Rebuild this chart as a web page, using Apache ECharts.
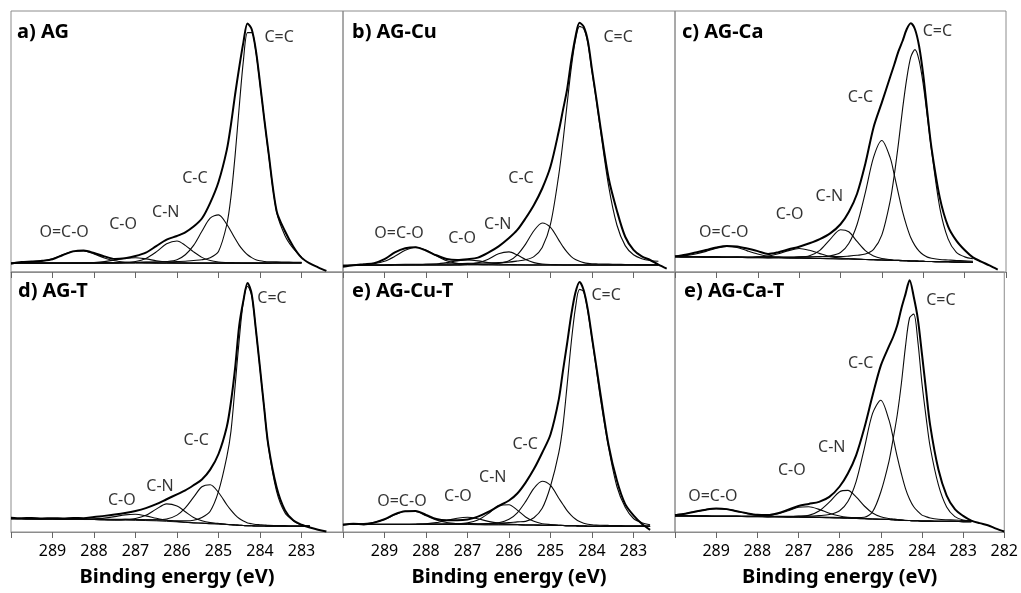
<!DOCTYPE html>
<html>
<head>
<meta charset="utf-8">
<script src="https://cdn.jsdelivr.net/npm/echarts@6.0.0/dist/echarts.min.js"></script>
<style>
  html, body { margin: 0; padding: 0; background: #fff; }
  #chart { width: 1021px; height: 593px; }
</style>
</head>
<body>
<div id="chart"></div>
<script>
// binding energy grid (eV), shared by every panel
const energy = [
  290, 289.75, 289.5, 289.25, 289, 288.75, 288.5, 288.25, 288, 287.75,
  287.5, 287.25, 287, 286.75, 286.5, 286.25, 286, 285.8, 285.6, 285.4,
  285.2, 285, 284.8, 284.7, 284.6, 284.5, 284.4, 284.3, 284.2, 284.1,
  284, 283.9, 283.8, 283.6, 283.4, 283.2, 283, 282.8, 282.6, 282.4,
  282.2, 282
];

// a) AG  -- background, measured spectrum, fitted components (height above background)
const bgAG = [
  3.3, 3.3, 3.4, 3.4, 3.4, 3.4, 3.4, 3.4, 3.4, 3.4,
  3.4, 3.4, 3.4, 3.4, 3.4, 3.4, 3.4, 3.4, 3.4, 3.4,
  3.4, 3.4, 3.4, 3.4, 3.4, 3.4, 3.4, 3.4, 3.4, 3.4,
  3.4, 3.4, 3.4, 3.5, 3.5, 3.5, 3.5, null, null, null,
  null, null
];
const expAG = [
  3.2, 3.8, 4.0, 4.3, 4.9, 6.5, 7.9, 8.2, 7.3, 6.0,
  5.0, 5.3, 6.1, 7.4, 9.9, 12.4, 13.8, 15.2, 17.4, 20.5,
  26.5, 34.5, 46.8, 56.5, 68, 78.5, 88, 95.2, 93, 85,
  72.5, 59, 46.5, 23.4, 15.7, 9.8, 5.5, 3.3, 1.8, 0.4,
  null, null
];
const sp2AG = [
  0, 0, 0, 0, 0, 0, 0.1, 0.1, 0.2, 0.2,
  0.2, 0.3, 0.3, 0.4, 0.4, 0.5, 0.6, 0.7, 1.0, 1.3,
  2.1, 4.5, 14.8, 25.4, 41.2, 60, 77.6, 88.3, 88.3, 81.1,
  68.6, 55.6, 42.5, 19.5, 10.5, 5.5, 2.2, 0, 0, 0,
  0, 0
];
const sp3AG = [
  0, 0, 0, 0, 0, 0, 0, 0, 0, 0,
  0, 0.1, 0.25, 0.3, 0.4, 0.6, 1.3, 3.2, 6.8, 12.2,
  17.2, 18.5, 14.9, 12.2, 9.4, 6.8, 4.8, 3.2, 2.1, 1.3,
  0.9, 0.65, 0.5, 0.4, 0.3, 0.25, 0.2, 0, 0, 0,
  0, 0
];
const cnAG = [
  0, 0, 0, 0, 0, 0, 0, 0, 0, 0.1,
  0.17, 0.26, 0.6, 1.8, 4.3, 7.4, 8.5, 6.8, 4.3, 2.2,
  1.0, 0.43, 0.23, 0.2, 0.15, 0.1, 0, 0, 0, 0,
  0, 0, 0, 0, 0, 0, 0, 0, 0, 0,
  0, 0
];
const coAG = [
  0, 0, 0, 0, 0, 0, 0, 0.1, 0.23, 0.57,
  1.19, 1.86, 2.08, 1.62, 0.92, 0.4, 0.16, 0.1, 0, 0,
  0, 0, 0, 0, 0, 0, 0, 0, 0, 0,
  0, 0, 0, 0, 0, 0, 0, 0, 0, 0,
  0, 0
];
const oocAG = [
  0.1, 0.15, 0.3, 0.74, 1.7, 3.2, 4.5, 4.67, 3.5, 2.0,
  0.9, 0.36, 0.16, 0.1, 0, 0, 0, 0, 0, 0,
  0, 0, 0, 0, 0, 0, 0, 0, 0, 0,
  0, 0, 0, 0, 0, 0, 0, 0, 0, 0,
  0, 0
];

// b) AG-Cu
const bgAGCu = [
  2.5, 2.5, 2.6, 2.6, 2.6, 2.7, 2.7, 2.7, 2.7, 2.7,
  2.7, 2.7, 2.7, 2.7, 2.7, 2.7, 2.7, 2.7, 2.7, 2.7,
  2.7, 2.7, 2.7, 2.7, 2.7, 2.7, 2.7, 2.7, 2.7, 2.7,
  2.7, 2.7, 2.7, 2.7, 2.7, 2.7, 2.7, 2.7, 2.7, 2.7,
  null, null
];
const expAGCu = [
  2.0, 2.6, 3.0, 3.4, 4.9, 7.5, 9.1, 9.5, 8.2, 6.4,
  5.0, 4.6, 4.9, 5.5, 7.4, 9.8, 13.0, 16.1, 20.6, 25.7,
  32, 40.4, 54, 62, 70, 81, 90, 95.5, 94, 88.5,
  77.5, 67, 56, 36, 23.5, 13.5, 8.5, 6.0, 4.6, 2.8,
  1.3, null
];
const sp2AGCu = [
  0.1, 0.1, 0.15, 0.15, 0.2, 0.2, 0.25, 0.25, 0.3, 0.35,
  0.4, 0.5, 0.6, 0.7, 0.8, 0.9, 1.1, 1.5, 2.0, 3.2,
  6.7, 15.6, 34.6, 47.2, 61.6, 75.4, 86, 91.4, 90.5, 85,
  74, 63.5, 52.1, 30.3, 15.3, 7.4, 3.9, 2.4, 1.7, 1.4,
  0, 0
];
const sp3AGCu = [
  0, 0, 0, 0, 0, 0, 0, 0, 0, 0,
  0, 0, 0.15, 0.2, 0.3, 0.6, 1.6, 3.9, 8.0, 13.1,
  16.1, 14.4, 9.5, 7.0, 4.9, 3.2, 2.1, 1.4, 0.9, 0.6,
  0.45, 0.4, 0.35, 0.3, 0.25, 0.2, 0.15, 0.1, 0.1, 0.1,
  0, 0
];
const cnAGCu = [
  0, 0, 0, 0, 0, 0, 0, 0, 0, 0,
  0, 0.1, 0.24, 0.8, 2.2, 4.3, 5.0, 3.8, 2.1, 0.9,
  0.35, 0.15, 0.1, 0, 0, 0, 0, 0, 0, 0,
  0, 0, 0, 0, 0, 0, 0, 0, 0, 0,
  0, 0
];
const coAGCu = [
  0, 0, 0, 0, 0, 0, 0, 0.1, 0.15, 0.38,
  0.9, 1.55, 1.9, 1.55, 0.9, 0.38, 0.15, 0.1, 0, 0,
  0, 0, 0, 0, 0, 0, 0, 0, 0, 0,
  0, 0, 0, 0, 0, 0, 0, 0, 0, 0,
  0, 0
];
const oocAGCu = [
  0.1, 0.15, 0.25, 0.6, 1.5, 3.3, 5.6, 6.8, 5.7, 3.5,
  1.6, 0.6, 0.27, 0.15, 0.1, 0, 0, 0, 0, 0,
  0, 0, 0, 0, 0, 0, 0, 0, 0, 0,
  0, 0, 0, 0, 0, 0, 0, 0, 0, 0,
  0, 0
];

// c) AG-Ca
const bgAGCa = [
  5.9, 5.8, 5.8, 5.7, 5.7, 5.6, 5.6, 5.5, 5.5, 5.4,
  5.4, 5.3, 5.3, 5.2, 5.2, 5.1, 5.0, 5.0, 4.9, 4.8,
  4.7, 4.6, 4.5, 4.4, 4.4, 4.3, 4.3, 4.2, 4.2, 4.1,
  4.1, 4.0, 4.0, 3.9, 3.9, 3.8, 3.8, 3.7, null, null,
  null, null
];
const expAGCa = [
  5.9, 6.6, 7.5, 8.4, 9.4, 10.0, 9.8, 9.0, 8.0, 6.9,
  7.6, 8.7, 9.7, 11, 12.6, 14.8, 18.3, 23, 30, 41.5,
  55.5, 65, 74.7, 79.5, 84.5, 88.5, 93, 95.3, 93, 86.5,
  75.5, 61, 47.5, 28.5, 17.5, 12, 8.4, 5.6, 4.0, 2.5,
  0.9, null
];
const sp2AGCa = [
  0.1, 0.1, 0.15, 0.15, 0.2, 0.2, 0.25, 0.25, 0.3, 0.35,
  0.4, 0.45, 0.5, 0.6, 0.7, 0.8, 0.9, 1.1, 1.5, 2.1,
  4.0, 9.6, 22.7, 32.8, 44.8, 58.1, 69.7, 78.2, 81, 77,
  67.7, 55.4, 42.7, 20.7, 8.8, 3.7, 2.0, 1.4, 0, 0,
  0, 0
];
const sp3AGCa = [
  0, 0, 0, 0, 0, 0, 0.1, 0.1, 0.2, 0.2,
  0.25, 0.3, 0.4, 0.5, 0.7, 1.1, 2.5, 5.9, 13.3, 25.6,
  39.3, 45.8, 39.3, 32.8, 25.6, 18.8, 13.3, 8.9, 5.9, 3.9,
  2.5, 1.7, 1.3, 0.9, 0.7, 0.6, 0.5, 0.4, 0, 0,
  0, 0
];
const cnAGCa = [
  0, 0, 0, 0, 0, 0, 0, 0, 0, 0,
  0.1, 0.2, 0.35, 1.0, 3.1, 7.4, 11.2, 10.4, 6.8, 3.4,
  1.4, 0.55, 0.3, 0.2, 0.15, 0.1, 0, 0, 0, 0,
  0, 0, 0, 0, 0, 0, 0, 0, 0, 0,
  0, 0
];
const coAGCa = [
  0, 0, 0, 0, 0, 0, 0, 0.1, 0.26, 0.7,
  1.6, 2.9, 3.7, 3.1, 1.85, 0.8, 0.3, 0.15, 0.1, 0,
  0, 0, 0, 0, 0, 0, 0, 0, 0, 0,
  0, 0, 0, 0, 0, 0, 0, 0, 0, 0,
  0, 0
];
const oocAGCa = [
  0.2, 0.46, 1.1, 2.2, 3.4, 4.2, 3.8, 2.6, 1.4, 0.6,
  0.26, 0.1, 0, 0, 0, 0, 0, 0, 0, 0,
  0, 0, 0, 0, 0, 0, 0, 0, 0, 0,
  0, 0, 0, 0, 0, 0, 0, 0, 0, 0,
  0, 0
];

// d) AG-T
const bgAGT = [
  5.1, 5.1, 5.0, 5.0, 5.0, 4.9, 4.9, 4.8, 4.8, 4.7,
  4.6, 4.6, 4.5, 4.4, 4.3, 4.1, 3.9, 3.7, 3.5, 3.4,
  3.2, 3.1, 2.9, 2.8, 2.7, 2.6, 2.5, 2.4, 2.4, 2.3,
  2.3, 2.3, 2.2, 2.2, 2.2, 2.2, 2.2, 2.2, null, null,
  null, null
];
const expAGT = [
  5.5, 5.3, 5.4, 5.2, 5.3, 5.2, 5.4, 5.3, 5.8, 6.2,
  6.7, 7.3, 8.1, 9.2, 10.7, 12.6, 14.5, 16, 18, 20.2,
  24, 30, 40.5, 50, 63, 79.5, 89, 95.8, 91.5, 78,
  63.1, 47.8, 33.5, 17.2, 8.4, 4.5, 2.8, 1.7, 0.9, 0.2,
  null, null
];
const sp2AGT = [
  0.1, 0.1, 0.1, 0.1, 0.15, 0.15, 0.15, 0.2, 0.2, 0.2,
  0.25, 0.25, 0.3, 0.3, 0.35, 0.4, 0.4, 0.6, 1.0, 2.2,
  4.8, 12.5, 26, 35.9, 53.4, 71.5, 86.3, 92.1, 88.5, 75.5,
  60.5, 45.3, 30.8, 13.4, 5.2, 2.2, 0.5, 0.2, 0, 0,
  0, 0
];
const sp3AGT = [
  0, 0, 0, 0, 0, 0, 0, 0, 0, 0,
  0, 0.1, 0.2, 0.3, 0.4, 0.9, 2.6, 5.6, 9.9, 14.0,
  15.0, 12.1, 7.6, 5.6, 3.9, 2.6, 1.7, 1.1, 0.76, 0.6,
  0.5, 0.4, 0.35, 0.3, 0.25, 0.2, 0.15, 0.1, 0, 0,
  0, 0
];
const cnAGT = [
  0, 0, 0, 0, 0, 0, 0, 0, 0, 0,
  0.14, 0.24, 0.7, 2.0, 4.5, 6.7, 6.1, 4.1, 2.1, 0.9,
  0.4, 0.2, 0.1, 0, 0, 0, 0, 0, 0, 0,
  0, 0, 0, 0, 0, 0, 0, 0, 0, 0,
  0, 0
];
const coAGT = [
  0, 0, 0, 0, 0, 0, 0, 0.1, 0.25, 0.63,
  1.3, 2.0, 2.3, 1.8, 1.0, 0.44, 0.17, 0.1, 0, 0,
  0, 0, 0, 0, 0, 0, 0, 0, 0, 0,
  0, 0, 0, 0, 0, 0, 0, 0, 0, 0,
  0, 0
];

// e) AG-Cu-T
const bgAGCuT = [
  2.9, 2.9, 2.9, 2.9, 2.9, 2.9, 2.9, 2.9, 2.9, 2.9,
  2.9, 2.9, 2.9, 2.8, 2.8, 2.8, 2.8, 2.8, 2.7, 2.7,
  2.6, 2.6, 2.5, 2.5, 2.4, 2.4, 2.4, 2.3, 2.3, 2.2,
  2.2, 2.2, 2.2, 2.2, 2.2, 2.2, 2.2, 2.2, 2.2, null,
  null, null
];
const expAGCuT = [
  2.7, 3.2, 2.9, 3.6, 4.9, 6.9, 8.0, 8.1, 6.6, 5.0,
  4.5, 4.5, 4.8, 5.9, 7.7, 10.0, 12.1, 14.8, 19, 24.2,
  30.5, 37.5, 51, 62, 72.5, 83.5, 92, 96.2, 93, 85.5,
  74.8, 64.2, 53.5, 33.4, 19.8, 10.7, 6.4, 3.2, 0.8, null,
  null, null
];
const sp2AGCuT = [
  0.1, 0.1, 0.1, 0.15, 0.15, 0.2, 0.2, 0.2, 0.25, 0.25,
  0.3, 0.3, 0.35, 0.4, 0.45, 0.6, 0.8, 1.1, 1.4, 2.8,
  6.5, 15, 28, 38.4, 54, 70.5, 83.7, 91, 90.1, 82.5,
  72, 61, 49.5, 30.2, 15.3, 7.3, 3.0, 1.4, 0.6, 0,
  0, 0
];
const sp3AGCuT = [
  0, 0, 0, 0, 0, 0, 0, 0, 0, 0,
  0, 0.1, 0.2, 0.3, 0.4, 0.75, 2.1, 4.6, 9.0, 14.1,
  16.9, 15.3, 10.5, 8.1, 5.8, 4.0, 2.6, 1.7, 1.1, 0.8,
  0.56, 0.45, 0.4, 0.33, 0.28, 0.22, 0.18, 0.14, 0.1, 0,
  0, 0
];
const cnAGCuT = [
  0, 0, 0, 0, 0, 0, 0, 0, 0, 0,
  0.14, 0.24, 0.6, 1.8, 4.3, 7.3, 7.7, 5.6, 3.1, 1.4,
  0.6, 0.27, 0.15, 0.1, 0, 0, 0, 0, 0, 0,
  0, 0, 0, 0, 0, 0, 0, 0, 0, 0,
  0, 0
];
const coAGCuT = [
  0, 0, 0, 0, 0, 0, 0, 0.1, 0.27, 0.69,
  1.5, 2.4, 2.8, 2.3, 1.3, 0.6, 0.24, 0.1, 0, 0,
  0, 0, 0, 0, 0, 0, 0, 0, 0, 0,
  0, 0, 0, 0, 0, 0, 0, 0, 0, 0,
  0, 0
];
const oocAGCuT = [
  0.1, 0.15, 0.32, 0.8, 1.9, 3.7, 5.1, 5.0, 3.4, 1.75,
  0.73, 0.3, 0.15, 0.1, 0, 0, 0, 0, 0, 0,
  0, 0, 0, 0, 0, 0, 0, 0, 0, 0,
  0, 0, 0, 0, 0, 0, 0, 0, 0, 0,
  0, 0
];

// e) AG-Ca-T (the source labels this panel "e" too)
const bgAGCaT = [
  6.2, 6.2, 6.1, 6.1, 6.0, 6.0, 6.0, 5.9, 5.9, 5.8,
  5.8, 5.7, 5.7, 5.6, 5.6, 5.5, 5.4, 5.3, 5.2, 5.1,
  5.0, 4.9, 4.8, 4.7, 4.6, 4.5, 4.4, 4.4, 4.3, 4.3,
  4.2, 4.2, 4.2, 4.1, 4.1, 4.1, 4.0, 4.0, null, null,
  null, null
];
const expAGCaT = [
  6.4, 7.0, 7.9, 8.6, 9.0, 8.8, 8.0, 7.2, 6.6, 6.5,
  7.2, 8.6, 10.0, 10.8, 11.6, 13.5, 17.5, 22.5, 29.5, 40,
  52.5, 64, 71.5, 75, 79.5, 86, 91.5, 96.8, 90.5, 82,
  68.5, 54.5, 41, 24, 14, 8.8, 6.2, 4.4, 3.4, 2.6,
  1.3, 0.2
];
const sp2AGCaT = [
  0.1, 0.1, 0.1, 0.1, 0.1, 0.1, 0.1, 0.1, 0.1, 0.1,
  0.1, 0.1, 0.15, 0.15, 0.15, 0.2, 0.2, 0.3, 0.4, 0.6,
  2.8, 10.5, 22.5, 31.1, 40.5, 52.6, 67, 78, 79.5, 69,
  53, 40, 28.5, 14, 5.5, 1.8, 0.6, 0.3, 0, 0,
  0, 0
];
const sp3AGCaT = [
  0, 0, 0, 0, 0, 0, 0, 0.1, 0.15, 0.2,
  0.25, 0.3, 0.4, 0.5, 0.7, 1.2, 2.8, 6.4, 14.2, 27.1,
  40.6, 45.8, 38.2, 31.5, 24.3, 17.9, 12.3, 8.2, 5.4, 3.6,
  2.3, 1.7, 1.2, 0.8, 0.6, 0.5, 0.4, 0.3, 0, 0,
  0, 0
];
const cnAGCaT = [
  0, 0, 0, 0, 0, 0, 0, 0, 0, 0,
  0.1, 0.2, 0.34, 0.8, 2.5, 6.0, 10.1, 10.7, 8.3, 4.9,
  2.3, 0.95, 0.4, 0.3, 0.2, 0.15, 0.1, 0, 0, 0,
  0, 0, 0, 0, 0, 0, 0, 0, 0, 0,
  0, 0
];
const coAGCaT = [
  0, 0, 0, 0, 0, 0, 0, 0.1, 0.2, 0.5,
  1.2, 2.5, 3.8, 4.1, 3.1, 1.7, 0.76, 0.36, 0.18, 0.1,
  0, 0, 0, 0, 0, 0, 0, 0, 0, 0,
  0, 0, 0, 0, 0, 0, 0, 0, 0, 0,
  0, 0
];
const oocAGCaT = [
  0.45, 0.9, 1.7, 2.5, 3.0, 2.8, 2.0, 1.2, 0.6, 0.27,
  0.13, 0.1, 0, 0, 0, 0, 0, 0, 0, 0,
  0, 0, 0, 0, 0, 0, 0, 0, 0, 0,
  0, 0, 0, 0, 0, 0, 0, 0, 0, 0,
  0, 0
];

const titles = ["a) AG", "b) AG-Cu", "c) AG-Ca", "d) AG-T", "e) AG-Cu-T", "e) AG-Ca-T"];
const xTicks = [283, 284, 285, 286, 287, 288, 289];
const xName = "Binding energy (eV)";

// peak annotations: text, energy, intensity
const peakTags = [
  [["C=C", 283.54, 90], ["C-C", 285.57, 36], ["C-N", 286.27, 23], ["C-O", 287.3, 18.4], ["O=C-O", 288.72, 15.3]],
  [["C=C", 283.37, 89.7], ["C-C", 285.71, 36], ["C-N", 286.27, 18.4], ["C-O", 287.13, 13], ["O=C-O", 288.65, 14.9]],
  [["C=C", 283.66, 92.3], ["C-C", 285.52, 66.7], ["C-N", 286.27, 29.1], ["C-O", 287.23, 22.2], ["O=C-O", 288.82, 15.3]],
  [["C=C", 283.71, 90], ["C-C", 285.54, 35.4], ["C-N", 286.41, 17.7], ["C-O", 287.33, 12.3]],
  [["C=C", 283.66, 90.8], ["C-C", 285.61, 33.5], ["C-N", 286.39, 20.8], ["C-O", 287.23, 13.8], ["O=C-O", 288.58, 11.9]],
  [["C=C", 283.54, 89.2], ["C-C", 285.49, 65], ["C-N", 286.19, 32.7], ["C-O", 287.16, 23.5], ["O=C-O", 289.08, 13.8]],
];

const panels = [
  { bg: bgAG, exp: expAG, comps: [sp2AG, sp3AG, cnAG, coAG, oocAG] },
  { bg: bgAGCu, exp: expAGCu, comps: [sp2AGCu, sp3AGCu, cnAGCu, coAGCu, oocAGCu] },
  { bg: bgAGCa, exp: expAGCa, comps: [sp2AGCa, sp3AGCa, cnAGCa, coAGCa, oocAGCa] },
  { bg: bgAGT, exp: expAGT, comps: [sp2AGT, sp3AGT, cnAGT, coAGT] },
  { bg: bgAGCuT, exp: expAGCuT, comps: [sp2AGCuT, sp3AGCuT, cnAGCuT, coAGCuT, oocAGCuT] },
  { bg: bgAGCaT, exp: expAGCaT, comps: [sp2AGCaT, sp3AGCaT, cnAGCaT, coAGCaT, oocAGCaT] },
];

(function () {
  "use strict";
  const chart = echarts.init(document.getElementById("chart"));
  const FONT = '"Noto Sans", "Open Sans", sans-serif';
  const FRAME = "#8c8c8c";
  const colX = [11, 343, 675], colW = [332, 332, 331];
  const rowY = [11, 272], rowH = [261, 260];
  const titleXY = [[17, 20], [352, 20], [682, 20], [18, 279], [352, 279], [684, 279]];

  const grid = [], xAxis = [], yAxis = [], series = [], title = [];

  panels.forEach((p, i) => {
    const col = i % 3, row = Math.floor(i / 3);
    grid.push({ left: colX[col], top: rowY[row], width: colW[col], height: rowH[row],
      show: true, borderColor: FRAME, borderWidth: 1 });
    xAxis.push({
      gridIndex: i, type: "value", min: 282, max: 290, interval: 1, inverse: true,
      splitLine: { show: false },
      axisLine: { show: true, onZero: false, lineStyle: { color: FRAME } },
      axisTick: { show: true, length: 6, lineStyle: { color: "#666" } },
      axisLabel: {
        show: row === 1, margin: 11, color: "#000", fontSize: 16, fontFamily: FONT,
        formatter: v => (xTicks.includes(v) || (v === 282 && col === 2)) ? String(v) : "",
      },
      name: row === 1 ? xName : "", nameLocation: "middle", nameGap: 35,
      nameTextStyle: { fontSize: 20, fontWeight: "bold", color: "#000", fontFamily: FONT },
    });
    yAxis.push({ gridIndex: i, type: "value", min: 0, max: 100, show: false });
    title.push({ text: titles[i], left: titleXY[i][0], top: titleXY[i][1], padding: 0,
      textStyle: { fontSize: 20, fontWeight: "bold", color: "#000", fontFamily: FONT, lineHeight: 24 } });

    const base = { type: "line", xAxisIndex: i, yAxisIndex: i, showSymbol: false, silent: true,
      animation: false, smooth: 0.3 };
    const pts = arr => energy.map((e, k) => [e, arr[k]]).filter(d => d[1] != null);

    series.push({ ...base, smooth: false, data: pts(p.bg), lineStyle: { color: "#111", width: 1 } });
    p.comps.forEach(c => {
      const d = energy.map((e, k) => p.bg[k] == null ? null : [e, +(p.bg[k] + c[k]).toFixed(2)])
        .filter(Boolean);
      series.push({ ...base, data: d, lineStyle: { color: "#0a0a0a", width: 1.1 } });
    });
    series.push({ ...base, data: pts(p.exp), lineStyle: { color: "#000", width: 2 }, z: 5 });
    series.push({
      type: "scatter", xAxisIndex: i, yAxisIndex: i, silent: true, animation: false,
      symbolSize: 1, itemStyle: { color: "transparent" },
      data: peakTags[i].map(([t, e, v]) => ({ name: t, value: [e, v] })),
      label: { show: true, position: "inside", formatter: "{b}", color: "#000",
        fontSize: 16, fontFamily: FONT },
      z: 6,
    });
  });

  chart.setOption({ animation: false, title, grid, xAxis, yAxis, series });
  window.addEventListener("resize", () => chart.resize());
})();
</script>
</body>
</html>
